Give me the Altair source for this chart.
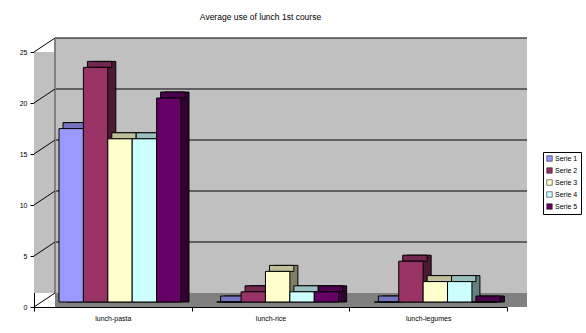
import altair as alt
import pandas as pd

categories = ["lunch-pasta", "lunch-rice", "lunch-legumes"]
series = ["Serie 1", "Serie 2", "Serie 3", "Serie 4", "Serie 5"]
values = {
    "Serie 1": [17, 0, 0],
    "Serie 2": [23, 1, 4],
    "Serie 3": [16, 3, 2],
    "Serie 4": [16, 1, 2],
    "Serie 5": [20, 1, 0],
}
front_colors = ["#9999FF", "#993366", "#FFFFCC", "#CCFFFF", "#660066"]
top_colors = ["#7373BF", "#732650", "#BFBF99", "#99BFBF", "#4D004D"]
side_colors = ["#4D4D80", "#4D1A33", "#808066", "#668080", "#330033"]
y_ticks = [0, 5, 10, 15, 20, 25]

rows = []
for s in series:
    for c, v in zip(categories, values[s]):
        rows.append({"cat": c, "series": s, "side": s + " ", "topf": s + "  ", "value": v})
df = pd.DataFrame(rows)

W, H = 473, 255
FONT = "Liberation Sans"
depth_units = 14 / (H / 25)  # back wall offset expressed in value units
BW = 122  # width of the group of five bars inside a category band

grid_df = pd.DataFrame({"v": y_ticks, "vb": [t + depth_units for t in y_ticks]})

x_enc = alt.X("cat:N", sort=categories, scale=alt.Scale(paddingInner=0, paddingOuter=0),
              axis=alt.Axis(title=None, labelFontSize=7, labelFont=FONT, labelColor="black",
                            domainColor="black", tickColor="black", tickBand="extent",
                            tickSize=4, labelPadding=3, labelAngle=0))


def xo(shift):
    return alt.XOffset("series:N", sort=series,
                       scale=alt.Scale(domain=series, range=[shift, shift + BW],
                                       paddingInner=0, paddingOuter=0))


y_scale = alt.Scale(domain=[0, 25], nice=False)

# walls
wall = alt.Chart(grid_df).mark_rect(color="#C0C0C0").encode(
    x=alt.value(21), x2=alt.value(W + 20),
    y=alt.datum(25 + depth_units, scale=y_scale), y2=alt.datum(depth_units),
)
left_wall = alt.Chart(grid_df).mark_rect(color="#C0C0C0").encode(
    x=alt.value(0), x2=alt.value(21),
    y=alt.datum(25), y2=alt.datum(depth_units),
)
floor = alt.Chart(grid_df).mark_rect(color="#808080").encode(
    x=alt.value(21), x2=alt.value(W + 20),
    y=alt.datum(depth_units), y2=alt.datum(0),
)
back_grid = alt.Chart(grid_df).transform_filter("datum.v > 0").mark_rule(color="black", strokeWidth=1).encode(
    x=alt.value(21), x2=alt.value(W + 20),
    y=alt.Y("vb:Q", scale=y_scale),
)
diag = alt.Chart(grid_df).mark_rule(color="black", strokeWidth=1).encode(
    x=alt.value(0), x2=alt.value(21),
    y=alt.Y("v:Q", scale=y_scale,
            axis=alt.Axis(title=None, values=y_ticks, labelFontSize=7, labelFont=FONT,
                          labelColor="black", domainColor="black", tickColor="black",
                          tickSize=4, grid=False, labelPadding=3)),
    y2="vb:Q",
)
wall_edge = alt.Chart(grid_df).mark_rule(color="#808080", strokeWidth=1).encode(
    x=alt.value(21), y=alt.datum(depth_units), y2=alt.datum(25 + depth_units),
)

color_enc = alt.Color("series:N", sort=series,
                      scale=alt.Scale(domain=series, range=front_colors),
                      legend=alt.Legend(title=None, orient="none", legendX=509, legendY=100,
                                        labelFontSize=7, labelFont=FONT, labelColor="black",
                                        symbolType="square", symbolSize=30,
                                        symbolStrokeColor="black", symbolStrokeWidth=0.5,
                                        strokeColor="black", fillColor="white",
                                        padding=3, rowPadding=3, labelOffset=2))

side = alt.Chart(df).mark_bar(stroke="black", strokeWidth=1, yOffset=-11, y2Offset=-5).encode(
    x=x_enc, xOffset=xo(33),
    y=alt.Y("value:Q", scale=y_scale), y2=alt.datum(0),
    fill=alt.Fill("side:N", scale=alt.Scale(domain=[s + " " for s in series], range=side_colors),
                  legend=None),
)

top = alt.Chart(df).mark_bar(stroke="black", strokeWidth=1, yOffset=-11, y2Offset=-5).encode(
    x=x_enc, xOffset=xo(29),
    y=alt.Y("value:Q", scale=y_scale), y2="value:Q",
    fill=alt.Fill("topf:N", scale=alt.Scale(domain=[s + "  " for s in series], range=top_colors),
                  legend=None),
)

front = alt.Chart(df).mark_bar(stroke="black", strokeWidth=1, yOffset=-5, y2Offset=-5).encode(
    x=x_enc, xOffset=xo(25),
    y=alt.Y("value:Q", scale=y_scale), y2=alt.datum(0),
    color=color_enc,
)

chart = alt.layer(
    wall, left_wall, floor, back_grid, wall_edge, diag, side, top, front
).resolve_scale(color="independent", fill="independent", xOffset="independent").properties(
    width=W, height=H,
    title=alt.TitleParams("Average use of lunch 1st course", fontSize=8.5, font=FONT,
                          fontWeight="normal", color="black", offset=16, dx=-10),
    padding={"left": 34, "top": 52, "right": 79, "bottom": 26},
    autosize=alt.AutoSizeParams(type="none"),
).configure_view(stroke=None).configure(background="white")

chart.save("out.html", embed_options={"renderer": "svg", "actions": False})
